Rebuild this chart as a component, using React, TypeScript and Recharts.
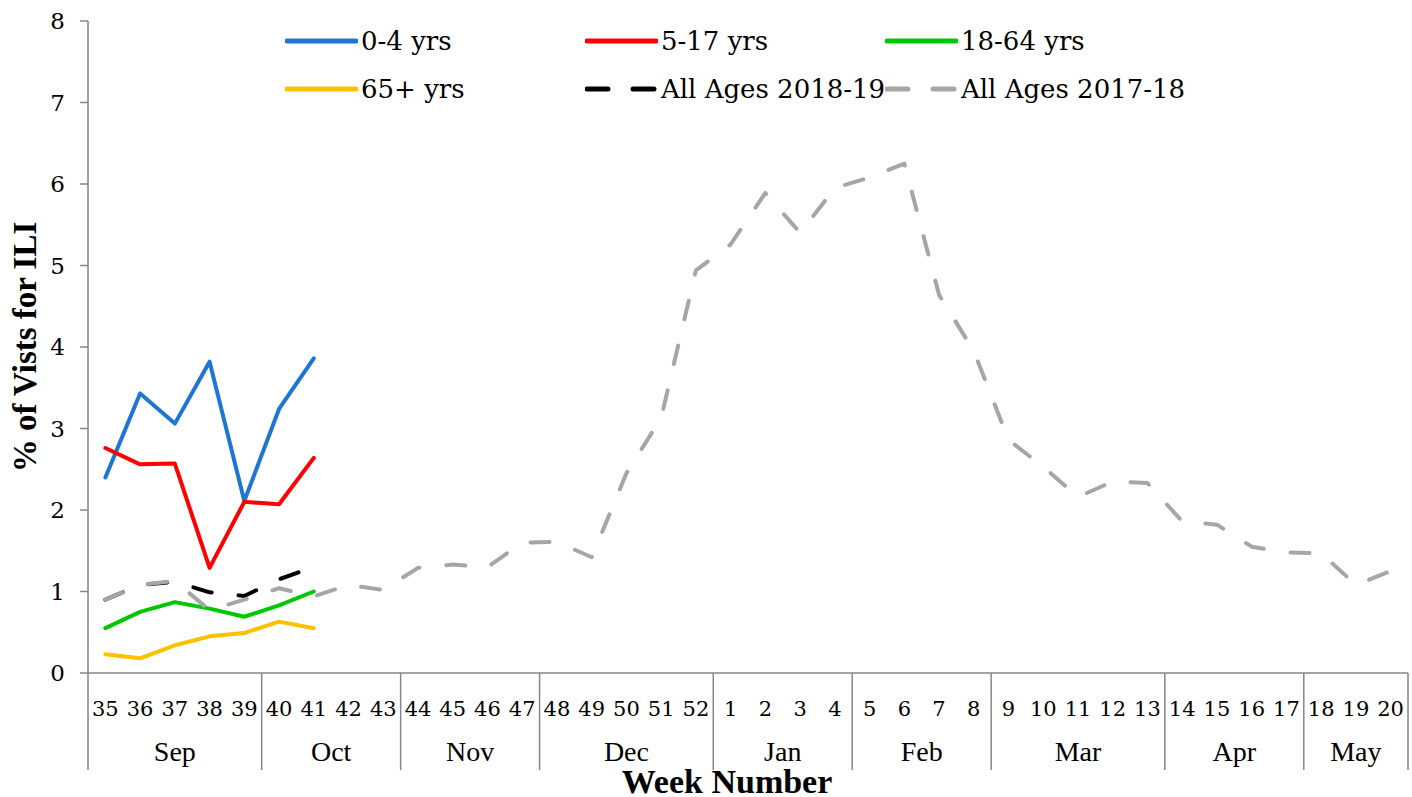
import { ComposedChart, Line, XAxis, YAxis, Legend } from 'recharts'

const weeks = [
  '35', '36', '37', '38', '39', '40', '41', '42', '43', '44', '45', '46', '47', '48', '49', '50', '51', '52',
  '1', '2', '3', '4', '5', '6', '7', '8', '9', '10', '11', '12', '13', '14', '15', '16', '17', '18', '19', '20',
]
const monthNames = ['Sep', 'Oct', 'Nov', 'Dec', 'Jan', 'Feb', 'Mar', 'Apr', 'May']
const monthWeekCounts = [5, 4, 4, 5, 4, 4, 5, 4, 3]
const yTicks = [0, 1, 2, 3, 4, 5, 6, 7, 8]

// 2018-19 season, only the first weeks are reported so far
const age0to4 = [2.4, 3.43, 3.06, 3.82, 2.11, 3.24, 3.86]
const age5to17 = [2.76, 2.56, 2.57, 1.29, 2.1, 2.07, 2.64]
const age18to64 = [0.55, 0.75, 0.87, 0.79, 0.69, 0.83, 1.0]
const age65plus = [0.23, 0.18, 0.34, 0.45, 0.49, 0.63, 0.55]
const allAges1819 = [0.9, 1.08, 1.12, 0.99, 0.945, 1.15, 1.3]
const allAges1718 = [
  0.9, 1.08, 1.13, 0.77, 0.9, 1.04, 0.94, 1.08, 1.02, 1.29, 1.33, 1.3, 1.6, 1.61, 1.42, 2.45, 3.13, 4.94,
  5.26, 5.89, 5.4, 5.95, 6.08, 6.25, 4.64, 3.95, 2.86, 2.53, 2.16, 2.35, 2.33, 1.86, 1.82, 1.55, 1.48, 1.47, 1.08, 1.25,
]

const seriesKeys = ['a04', 'a517', 'a1864', 'a65', 'all1819', 'all1718']
const seriesNames = ['0-4 yrs', '5-17 yrs', '18-64 yrs', '65+ yrs', 'All Ages 2018-19', 'All Ages 2017-18']
const seriesColors = ['#1F75D3', '#FF0000', '#00C800', '#FFC000', '#000000', '#A6A6A6']
const seriesDashed = [false, false, false, false, true, true]
const seriesValues = [age0to4, age5to17, age18to64, age65plus, allAges1819, allAges1718]

const data = weeks.map((week, i) => {
  const row: Record<string, string | number | null> = { week }
  seriesKeys.forEach((k, s) => {
    const v = seriesValues[s][i]
    row[k] = v === undefined ? null : v
  })
  return row
})

// first week index of each month group
const monthStarts = monthWeekCounts.map((_, m) => monthWeekCounts.slice(0, m).reduce((a, b) => a + b, 0))

const W = 1412
const H = 797
const MARGIN = { top: 21, right: 4, left: 0, bottom: 0 }
const Y_AXIS_W = 88
const X_AXIS_H = 124
const PLOT_W = W - MARGIN.left - MARGIN.right - Y_AXIS_W
const BAND = PLOT_W / weeks.length
const AXIS_COLOR = '#868686'
const DASH = '19 27'

function WeekTick(props: any) {
  const { x, y, payload, index } = props
  const m = monthStarts.indexOf(index)
  const left = x - BAND / 2
  return (
    <g>
      <text x={x} y={y + 43} textAnchor="middle" fontFamily="DejaVu Serif" fontSize={21} fill="#000">
        {payload.value}
      </text>
      {m >= 0 && (
        <>
          <line x1={left} y1={y} x2={left} y2={y + 97} stroke={AXIS_COLOR} strokeWidth={1.5} />
          <text
            x={left + (BAND * monthWeekCounts[m]) / 2}
            y={y + 88}
            textAnchor="middle"
            fontFamily="Liberation Serif"
            fontSize={28}
            fill="#000"
          >
            {monthNames[m]}
          </text>
        </>
      )}
      {index === weeks.length - 1 && (
        <line x1={x + BAND / 2} y1={y} x2={x + BAND / 2} y2={y + 97} stroke={AXIS_COLOR} strokeWidth={1.5} />
      )}
    </g>
  )
}

function LegendBox() {
  return (
    <div style={{ position: 'relative', width: 930, height: 96 }}>
      {seriesNames.map((name, i) => (
        <div
          key={name}
          style={{
            position: 'absolute',
            left: (i % 3) * 300,
            top: Math.floor(i / 3) * 48,
            height: 48,
            display: 'flex',
            alignItems: 'center',
            fontFamily: 'DejaVu Serif',
            fontSize: 26,
            color: '#000',
            whiteSpace: 'nowrap',
          }}
        >
          <svg width={73} height={10} style={{ display: 'block' }}>
            <line
              x1={2}
              y1={5}
              x2={71}
              y2={5}
              stroke={seriesColors[i]}
              strokeWidth={5}
              strokeLinecap="round"
              strokeDasharray={seriesDashed[i] ? '21 25' : undefined}
            />
          </svg>
          <span style={{ marginLeft: 3 }}>{name}</span>
        </div>
      ))}
    </div>
  )
}

export default function App() {
  return (
    <div style={{ position: 'absolute', left: 0, top: 0, width: W, height: H, background: '#fff' }}>
      <ComposedChart width={W} height={H} data={data} margin={MARGIN}>
        <XAxis
          dataKey="week"
          scale="band"
          interval={0}
          height={X_AXIS_H}
          tickLine={false}
          tickSize={0}
          tickMargin={0}
          axisLine={{ stroke: AXIS_COLOR, strokeWidth: 1.5 }}
          tick={<WeekTick />}
          label={{
            value: 'Week Number',
            position: 'insideBottom',
            offset: 4,
            dx: -21,
            style: { fontFamily: 'Liberation Serif', fontWeight: 'bold', fontSize: 34, fill: '#000' },
          }}
        />
        <YAxis
          width={Y_AXIS_W}
          domain={[0, 8]}
          ticks={yTicks}
          interval={0}
          tickSize={8}
          tickMargin={15}
          axisLine={{ stroke: AXIS_COLOR, strokeWidth: 1.5 }}
          tickLine={{ stroke: AXIS_COLOR, strokeWidth: 1.5 }}
          tick={{ fontFamily: 'DejaVu Serif', fontSize: 23, fill: '#000' }}
          label={{
            value: '% of Vists for ILI',
            angle: -90,
            position: 'insideLeft',
            offset: 24,
            style: { textAnchor: 'middle', fontFamily: 'Liberation Serif', fontWeight: 'bold', fontSize: 33, fill: '#000' },
          }}
        />
        <Legend
          layout="horizontal"
          verticalAlign="middle"
          align="center"
          wrapperStyle={{ top: 17, left: 285, width: 930 }}
          content={<LegendBox />}
        />
        {seriesKeys.map((k, i) => (
          <Line
            key={k}
            type="linear"
            dataKey={k}
            name={seriesNames[i]}
            stroke={seriesColors[i]}
            strokeWidth={4}
            strokeLinecap="round"
            strokeLinejoin="round"
            strokeDasharray={seriesDashed[i] ? DASH : undefined}
            dot={false}
            activeDot={false}
            isAnimationActive={false}
          />
        ))}
      </ComposedChart>
    </div>
  )
}
